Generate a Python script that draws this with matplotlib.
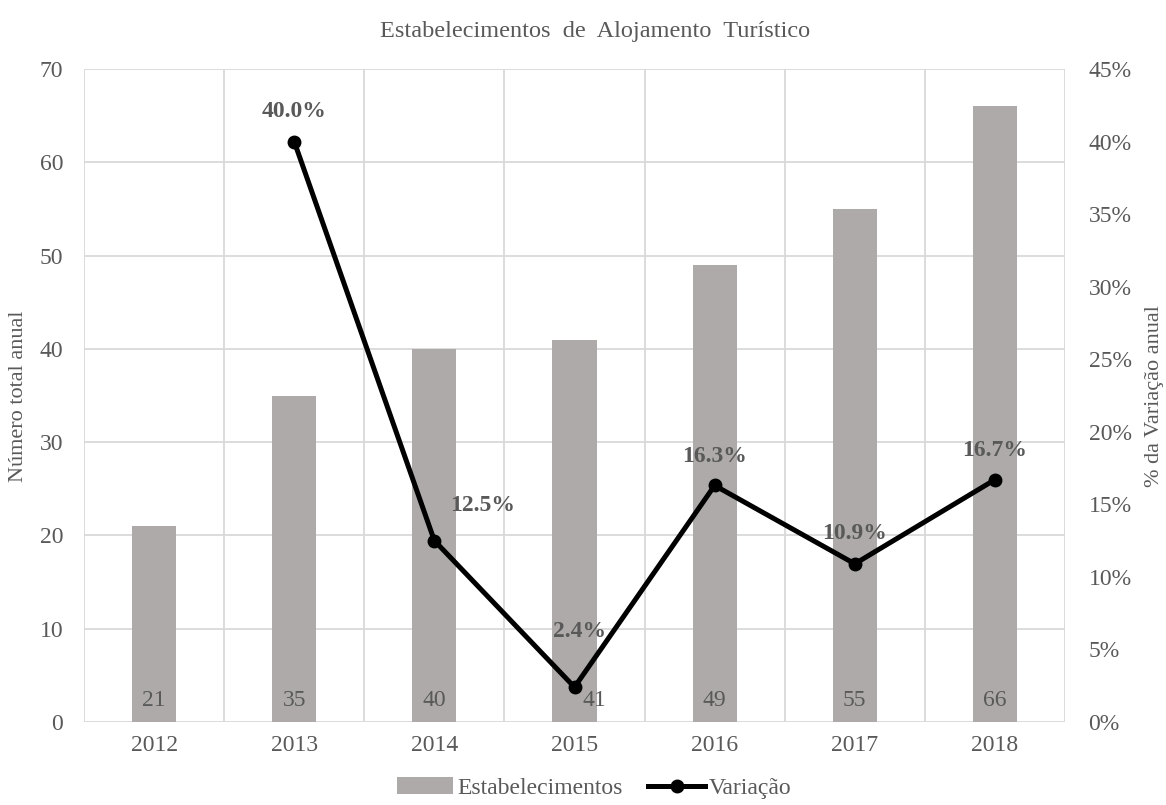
import matplotlib.pyplot as plt
import numpy as np

plt.rcParams['font.family'] = ['Liberation Serif', 'DejaVu Serif']

anos = ['2012', '2013', '2014', '2015', '2016', '2017', '2018']
estabelecimentos = [21, 35, 40, 41, 49, 55, 66]
variacao = [None, 40.0, 12.5, 2.4, 16.3, 10.9, 16.7]

TXT = '#595959'
GRID = '#D9D9D9'
BAR = '#AEAAAA'
FS = 17

fig = plt.figure(figsize=(11.66, 8.05), dpi=100)
ax1 = fig.add_axes([84/1166, 1-722/805, 981/1166, 653/805])
ax2 = ax1.twinx()

x = np.arange(len(anos))
ax1.bar(x, estabelecimentos, width=0.314, color=BAR, label='Estabelecimentos', zorder=2)
for xi, v in zip(x, estabelecimentos):
    dx = 0.14 if v == 41 else 0  # label pushed aside by the line in 2015
    ax1.text(xi + dx, 2.3, str(v), ha='center', va='center', fontsize=FS, color=TXT, zorder=3)

ax1.set_xlim(-0.5, len(anos) - 0.5)
ax1.set_ylim(0, 70)
ax1.set_yticks(range(0, 71, 10))
ax1.set_xticks(x)
ax1.set_xticklabels(anos)
# vertical lines between categories
for b in np.arange(-0.5, len(anos), 1):
    ax1.axvline(b, color=GRID, lw=1.3, zorder=0)
ax1.yaxis.grid(True, color=GRID, lw=1.3, zorder=0)
ax1.set_axisbelow(True)
for s in ax1.spines.values():
    s.set_visible(False)
for s in ax2.spines.values():
    s.set_visible(False)
ax1.tick_params(axis='y', length=0, labelsize=FS, colors=TXT, pad=15)
ax1.tick_params(axis='x', length=0, labelsize=FS, colors=TXT, pad=9)

xv = [xi for xi, v in zip(x, variacao) if v is not None]
yv = [v for v in variacao if v is not None]
ax2.plot(xv, yv, color='black', lw=3.6, marker='o', ms=9, label='Variação', zorder=4)
ax2.set_ylim(0, 45)
ax2.set_yticks(range(0, 46, 5))
ax2.set_yticklabels([f'{t}%' for t in range(0, 46, 5)])
ax2.tick_params(length=0, labelsize=FS, colors=TXT, pad=17)

offsets = [(0, 21.6), (35, 25), (3.6, 40), (0, 21), (0, 21.6), (0, 21)]
for xi, v, off in zip(xv, yv, offsets):
    ax2.annotate(f'{v:.1f}%', (xi, v), xytext=off, textcoords='offset points',
                 ha='center', va='center', fontsize=FS, fontweight='bold', color=TXT)

ax1.set_zorder(ax2.get_zorder() - 1)
ax2.patch.set_visible(False)

fig.text(19/1166, 1-396/805, 'Número total anual', rotation=90, ha='center', va='center',
         fontsize=16, color=TXT)
fig.text(1155/1166, 1-396/805, '% da Variação anual', rotation=90, ha='center', va='center',
         fontsize=16, color=TXT)
fig.text(595/1166, 1-32/805, 'Estabelecimentos  de  Alojamento  Turístico', ha='center', va='center',
         fontsize=17.5, color=TXT)

h1, l1 = ax1.get_legend_handles_labels()
h2, l2 = ax2.get_legend_handles_labels()
fig.legend(h1 + h2, l1 + l2, loc='center', bbox_to_anchor=(594/1166, 1-788/805), ncol=2,
           frameon=False, fontsize=FS, labelcolor=TXT, handlelength=2.4, handletextpad=0.15,
           columnspacing=1.1)

fig.savefig('out.png', dpi=100)
